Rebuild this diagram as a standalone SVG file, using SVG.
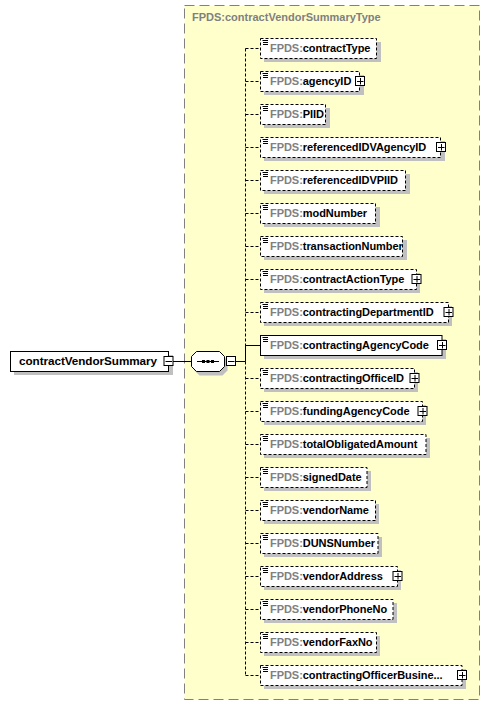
<svg xmlns="http://www.w3.org/2000/svg" width="490" height="707" viewBox="0 0 490 707">
<style>
.bg{fill:#ffffff}
.type{fill:#ffffcc;stroke:#808080;stroke-width:1;stroke-dasharray:10 5}
.ttl{font-family:"Liberation Sans",Arial,sans-serif;font-weight:bold;font-size:11px;fill:#808080}
.sh{fill:#c0c0c0}
.box{fill:#ffffff;stroke:#000000;stroke-width:1}
.opt{stroke-dasharray:3 2}
.t{font-family:"Liberation Sans",Arial,sans-serif;font-weight:bold;font-size:11px;fill:#000000;letter-spacing:-0.05px}
.ns{fill:#808080}
.ic{stroke:#000000;stroke-width:1}
.btn{fill:#ffffff;stroke:#000000;stroke-width:1}
.bl{stroke:#000000;stroke-width:1;fill:none}
.ln{stroke:#000000;stroke-width:1;fill:none}
.dl{stroke:#000000;stroke-width:1;fill:none;stroke-dasharray:3 2}
</style>
<defs>
<g id="icon"><path class="ic" d="M1.5 0.5H7M2 2.5H7M2 4.5H7"/></g>
<g id="plus"><rect class="btn" x="-4.5" y="-4.5" width="9" height="9"/><path class="bl" d="M-3 0.5H3.5M0.5 -3V3.5"/></g>
<g id="minus"><rect class="btn" x="-4.5" y="-4.5" width="9" height="9"/><path class="bl" d="M-3 0.5H3.5"/></g>
</defs>
<rect class="bg" x="0" y="0" width="490" height="707"/>
<g id="contractVendorSummaryType">
<rect class="type" x="184.5" y="5.5" width="295" height="694"/>
<text class="ttl" x="192" y="21">FPDS:contractVendorSummaryType</text>
</g>
<g id="connectors">
<path class="ln" d="M173 361.5H191.5"/>
<path class="ln" d="M236 361.5H245.5"/>
<path class="dl" d="M245.5 48.5V345"/>
<path class="ln" d="M245.5 345V361.5"/>
<path class="dl" d="M245.5 361.5V675.5"/>
<path class="dl" d="M245.5 48.5H260M245.5 81.5H260M245.5 114.5H260M245.5 147.5H260M245.5 180.5H260M245.5 213.5H260M245.5 246.5H260M245.5 279.5H260M245.5 312.5H260M245.5 378.5H260M245.5 411.5H260M245.5 444.5H260M245.5 477.5H260M245.5 510.5H260M245.5 543.5H260M245.5 576.5H260M245.5 609.5H260M245.5 642.5H260M245.5 675.5H260"/>
<path class="ln" d="M245.5 345.5H260"/>
</g>
<g id="contractVendorSummary">
<rect class="sh" x="14" y="355" width="159" height="20"/>
<rect class="box" x="10.5" y="351.5" width="158" height="20"/>
<text class="t" x="19" y="365" textLength="138" lengthAdjust="spacingAndGlyphs">contractVendorSummary</text>
<use href="#minus" x="168.5" y="361"/>
</g>
<g id="sequence">
<polygon class="sh" points="199.5,355.5 222.5,355.5 227.5,360.5 227.5,370.5 222.5,375.5 199.5,375.5 194.5,370.5 194.5,360.5"/>
<polygon class="box" points="196.5,351.5 219.5,351.5 224.5,356.5 224.5,366.5 219.5,371.5 196.5,371.5 191.5,366.5 191.5,356.5"/>
<path class="ln" d="M197 361.5H219"/>
<rect x="202" y="360" width="3" height="3" fill="#000"/>
<rect x="206.5" y="360" width="3" height="3" fill="#000"/>
<rect x="211" y="360" width="3" height="3" fill="#000"/>
<use href="#minus" x="231" y="361"/>
</g>
<g id="contractType"><rect class="sh" x="264" y="42" width="117" height="20"/><rect class="box opt" x="260.5" y="38.5" width="116" height="20"/><use href="#icon" x="261" y="40"/><text class="t" x="270" y="52"><tspan class="ns">FPDS:</tspan>contractType</text></g>
<g id="agencyID"><rect class="sh" x="264" y="75" width="100" height="20"/><rect class="box opt" x="260.5" y="71.5" width="99" height="20"/><use href="#icon" x="261" y="73"/><text class="t" x="270" y="85"><tspan class="ns">FPDS:</tspan>agencyID</text><use href="#plus" x="360" y="81"/></g>
<g id="PIID"><rect class="sh" x="264" y="108" width="66" height="20"/><rect class="box opt" x="260.5" y="104.5" width="65" height="20"/><use href="#icon" x="261" y="106"/><text class="t" x="270" y="118"><tspan class="ns">FPDS:</tspan>PIID</text></g>
<g id="referencedIDVAgencyID"><rect class="sh" x="264" y="141" width="181" height="20"/><rect class="box opt" x="260.5" y="137.5" width="180" height="20"/><use href="#icon" x="261" y="139"/><text class="t" x="270" y="151"><tspan class="ns">FPDS:</tspan>referencedIDVAgencyID</text><use href="#plus" x="441" y="147"/></g>
<g id="referencedIDVPIID"><rect class="sh" x="264" y="174" width="146" height="20"/><rect class="box opt" x="260.5" y="170.5" width="145" height="20"/><use href="#icon" x="261" y="172"/><text class="t" x="270" y="184"><tspan class="ns">FPDS:</tspan>referencedIDVPIID</text></g>
<g id="modNumber"><rect class="sh" x="264" y="207" width="116" height="20"/><rect class="box opt" x="260.5" y="203.5" width="115" height="20"/><use href="#icon" x="261" y="205"/><text class="t" x="270" y="217"><tspan class="ns">FPDS:</tspan>modNumber</text></g>
<g id="transactionNumber"><rect class="sh" x="264" y="240" width="143" height="20"/><rect class="box opt" x="260.5" y="236.5" width="142" height="20"/><use href="#icon" x="261" y="238"/><text class="t" x="270" y="250"><tspan class="ns">FPDS:</tspan>transactionNumber</text></g>
<g id="contractActionType"><rect class="sh" x="264" y="273" width="156" height="20"/><rect class="box opt" x="260.5" y="269.5" width="156" height="20"/><use href="#icon" x="261" y="271"/><text class="t" x="270" y="283"><tspan class="ns">FPDS:</tspan>contractActionType</text><use href="#plus" x="416.5" y="279"/></g>
<g id="contractingDepartmentID"><rect class="sh" x="264" y="306" width="188" height="20"/><rect class="box opt" x="260.5" y="302.5" width="188" height="20"/><use href="#icon" x="261" y="304"/><text class="t" x="270" y="316"><tspan class="ns">FPDS:</tspan>contractingDepartmentID</text><use href="#plus" x="448.5" y="312"/></g>
<g id="contractingAgencyCode"><rect class="sh" x="264" y="339" width="182" height="20"/><rect class="box" x="260.5" y="335.5" width="181.5" height="20"/><use href="#icon" x="261" y="337"/><text class="t" x="270" y="349"><tspan class="ns">FPDS:</tspan>contractingAgencyCode</text><use href="#plus" x="442" y="345"/></g>
<g id="contractingOfficeID"><rect class="sh" x="264" y="372" width="154" height="20"/><rect class="box opt" x="260.5" y="368.5" width="154" height="20"/><use href="#icon" x="261" y="370"/><text class="t" x="270" y="382"><tspan class="ns">FPDS:</tspan>contractingOfficeID</text><use href="#plus" x="414.5" y="378"/></g>
<g id="fundingAgencyCode"><rect class="sh" x="264" y="405" width="162" height="20"/><rect class="box opt" x="260.5" y="401.5" width="162" height="20"/><use href="#icon" x="261" y="403"/><text class="t" x="270" y="415"><tspan class="ns">FPDS:</tspan>fundingAgencyCode</text><use href="#plus" x="422.5" y="411"/></g>
<g id="totalObligatedAmount"><rect class="sh" x="264" y="438" width="166" height="20"/><rect class="box opt" x="260.5" y="434.5" width="165.5" height="20"/><use href="#icon" x="261" y="436"/><text class="t" x="270" y="448"><tspan class="ns">FPDS:</tspan>totalObligatedAmount</text></g>
<g id="signedDate"><rect class="sh" x="264" y="471" width="107" height="20"/><rect class="box opt" x="260.5" y="467.5" width="106.5" height="20"/><use href="#icon" x="261" y="469"/><text class="t" x="270" y="481"><tspan class="ns">FPDS:</tspan>signedDate</text></g>
<g id="vendorName"><rect class="sh" x="264" y="504" width="115" height="20"/><rect class="box opt" x="260.5" y="500.5" width="115" height="20"/><use href="#icon" x="261" y="502"/><text class="t" x="270" y="514"><tspan class="ns">FPDS:</tspan>vendorName</text></g>
<g id="DUNSNumber"><rect class="sh" x="264" y="537" width="118" height="20"/><rect class="box opt" x="260.5" y="533.5" width="117.5" height="20"/><use href="#icon" x="261" y="535"/><text class="t" x="270" y="547"><tspan class="ns">FPDS:</tspan>DUNSNumber</text></g>
<g id="vendorAddress"><rect class="sh" x="264" y="570" width="137" height="20"/><rect class="box opt" x="260.5" y="566.5" width="137" height="20"/><use href="#icon" x="261" y="568"/><text class="t" x="270" y="580"><tspan class="ns">FPDS:</tspan>vendorAddress</text><use href="#plus" x="397.5" y="576"/></g>
<g id="vendorPhoneNo"><rect class="sh" x="264" y="603" width="133" height="20"/><rect class="box opt" x="260.5" y="599.5" width="132.5" height="20"/><use href="#icon" x="261" y="601"/><text class="t" x="270" y="613"><tspan class="ns">FPDS:</tspan>vendorPhoneNo</text></g>
<g id="vendorFaxNo"><rect class="sh" x="264" y="636" width="116" height="20"/><rect class="box opt" x="260.5" y="632.5" width="116" height="20"/><use href="#icon" x="261" y="634"/><text class="t" x="270" y="646"><tspan class="ns">FPDS:</tspan>vendorFaxNo</text></g>
<g id="contractingOfficerBusinessSizeDetermination"><rect class="sh" x="264" y="669" width="202" height="20"/><rect class="box opt" x="260.5" y="665.5" width="201.5" height="20"/><use href="#icon" x="261" y="667"/><text class="t" x="270" y="679"><tspan class="ns">FPDS:</tspan>contractingOfficerBusine...</text><use href="#plus" x="462" y="675"/></g>
</svg>
